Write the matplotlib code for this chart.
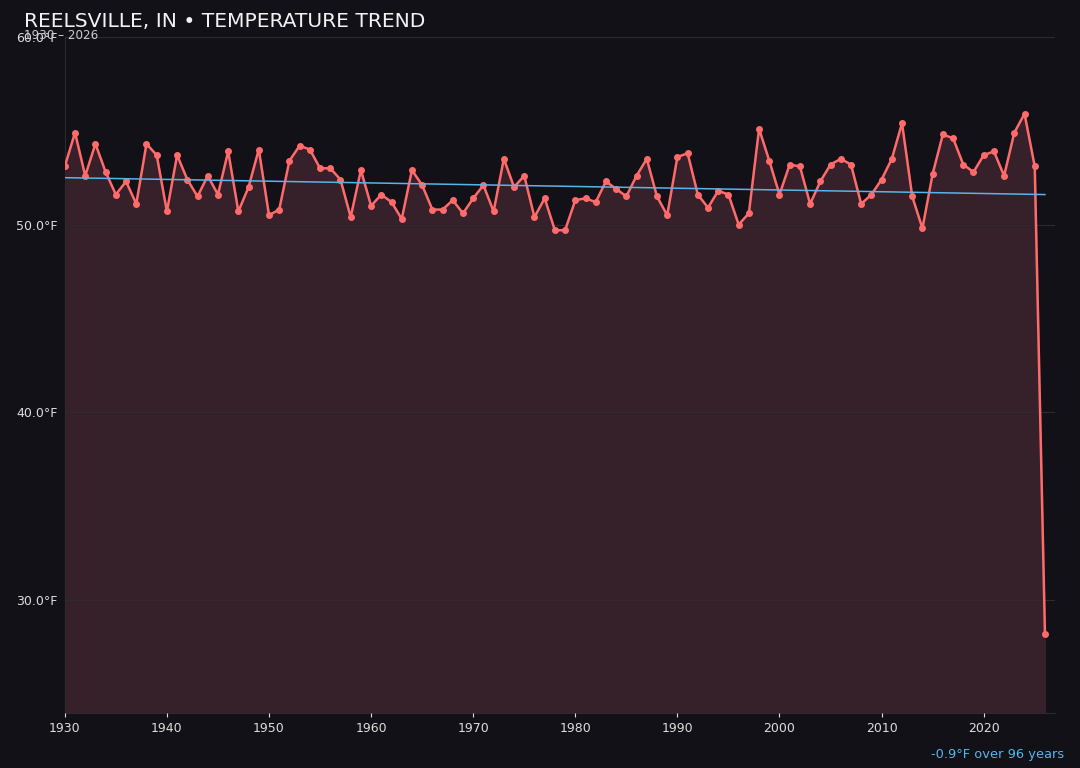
import matplotlib
matplotlib.use("Agg")
import matplotlib.pyplot as plt
import numpy as np

# yearly mean temperature
years = list(range(1930, 2027))
temps = [
    53.1, 54.9, 52.6, 54.3, 52.8, 51.6, 52.3, 51.1, 54.3, 53.7,  # 1930s
    50.7, 53.7, 52.4, 51.5, 52.6, 51.6, 53.9, 50.7, 52.0, 54.0,  # 1940s
    50.5, 50.8, 53.4, 54.2, 54.0, 53.0, 53.0, 52.4, 50.4, 52.9,  # 1950s
    51.0, 51.6, 51.2, 50.3, 52.9, 52.1, 50.8, 50.8, 51.3, 50.6,  # 1960s
    51.4, 52.1, 50.7, 53.5, 52.0, 52.6, 50.4, 51.4, 49.7, 49.7,  # 1970s
    51.3, 51.4, 51.2, 52.3, 51.9, 51.5, 52.6, 53.5, 51.5, 50.5,  # 1980s
    53.6, 53.8, 51.6, 50.9, 51.8, 51.6, 50.0, 50.6, 55.1, 53.4,  # 1990s
    51.6, 53.2, 53.1, 51.1, 52.3, 53.2, 53.5, 53.2, 51.1, 51.6,  # 2000s
    52.4, 53.5, 55.4, 51.5, 49.8, 52.7, 54.8, 54.6, 53.2, 52.8,  # 2010s
    53.7, 53.9, 52.6, 54.9, 55.9, 53.1, 28.2,                    # 2020s
]
yticks = [30, 40, 50, 60]
xticks = [1930, 1940, 1950, 1960, 1970, 1980, 1990, 2000, 2010, 2020]
trend_start = 52.5
trend_end = 51.6

bg = "#121117"
line_c = "#ff6b6b"
trend_c = "#5ab4e8"

fig = plt.figure(figsize=(10.8, 7.68), dpi=100, facecolor=bg)
ax = fig.add_axes([0.060, 0.072, 0.917, 0.880])
ax.set_facecolor(bg)

x = np.array(years)
y = np.array(temps)
ymin = 24.0
ax.fill_between(x, y, ymin, color="#36202a", alpha=1.0, zorder=1)
ax.plot(x, y, color=line_c, lw=1.8, marker="o", ms=4, zorder=3)
ax.plot([years[0], years[-1]], [trend_start, trend_end], color=trend_c, lw=1.1, zorder=4)

ax.set_xlim(1930, 2027)
ax.set_ylim(ymin, 60)
ax.set_yticks(yticks)
ax.set_yticklabels([f"{v:.1f}°F" for v in yticks])
ax.set_xticks(xticks)
ax.tick_params(colors="#dddddd", labelsize=9, length=3)
ax.tick_params(axis="y", length=0, pad=5)
ax.grid(axis="y", color="#2e2a2f", lw=0.8)
ax.set_axisbelow(False)
for s in ["top", "right"]:
    ax.spines[s].set_visible(False)
for s in ["left", "bottom"]:
    ax.spines[s].set_color("#2a2a30")

fig.text(0.022, 0.972, "REELSVILLE, IN • TEMPERATURE TREND", color="#f2f2f2",
         fontsize=14.6, va="center", ha="left")
fig.text(0.022, 0.954, "1930 – 2026", color="#cccccc", fontsize=8.6, va="center", ha="left")
fig.text(0.985, 0.017, f"{trend_end - trend_start:.1f}°F over {years[-1] - years[0]} years",
         color=trend_c, fontsize=9.4, ha="right", va="center")

fig.savefig("out.png", dpi=100, facecolor=bg)
